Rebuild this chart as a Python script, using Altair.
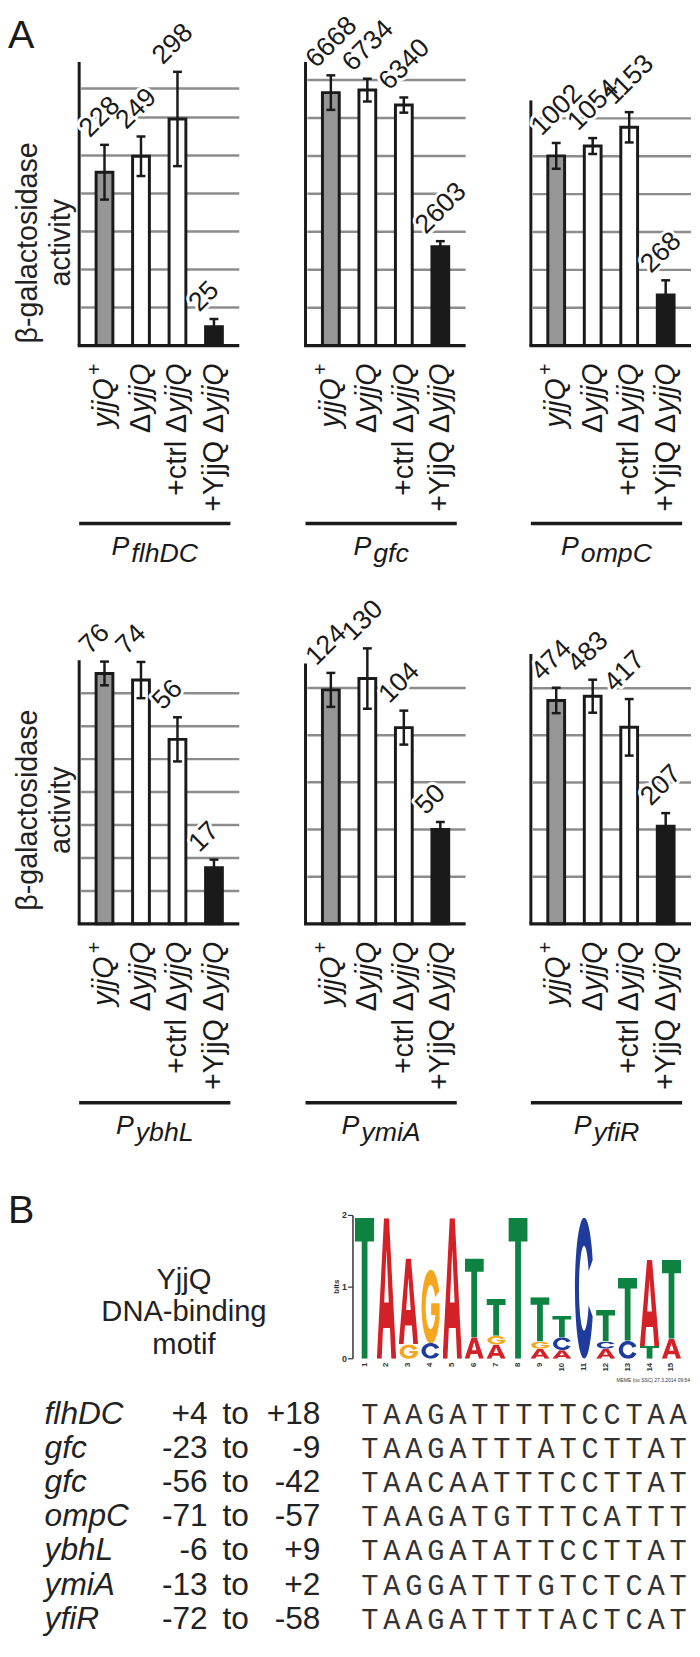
import altair as alt
import pandas as pd
from urllib.parse import quote

# ---------------- data ----------------
STRAINS = ["yjjQ+", "ΔyjjQ", "+ctrl ΔyjjQ", "+YjjQ ΔyjjQ"]
LABEL_ITALIC = ["yjjQ", "yjjQ", "yjjQ", "yjjQ"]
LABEL_PREFIX = ["", "Δ", "+ctrl Δ", "+YjjQ Δ"]
LABEL_SUP = ["+", "", "", ""]

PROMOTERS = ["flhDC", "gfc", "ompC", "ybhL", "ymiA", "yfiR"]

VAL_FLHDC = [228, 249, 298, 25]
ERR_FLHDC = [36, 26, 62, 10]
VAL_GFC = [6668, 6734, 6340, 2603]
ERR_GFC = [455, 300, 200, 150]
VAL_OMPC = [1002, 1054, 1153, 268]
ERR_OMPC = [68, 42, 80, 77]
VAL_YBHL = [76, 74, 56, 17]
ERR_YBHL = [3.6, 5.5, 6.7, 2.5]
VAL_YMIA = [124, 130, 104, 50]
ERR_YMIA = [9, 16, 9, 4]
VAL_YFIR = [474, 483, 417, 207]
ERR_YFIR = [27, 35, 60, 28]

GRID_FLHDC = [50, 100, 150, 200, 250, 300, 338]
GRID_GFC = [1000, 2000, 3000, 4000, 5000, 6000, 7000]
GRID_OMPC = [200, 400, 600, 800, 1000, 1200]
GRID_YBHL = [10, 20, 30, 40, 50, 60, 70]
GRID_YMIA = [25, 50, 75, 100, 125]
GRID_YFIR = [100, 200, 300, 400, 500]

# y-scale top of each panel and where its drawn axis line ends
YMAX = [373, 7476, 1498, 81.9, 143, 572.5]
AXIS_TOP = [373, 7476, 1295, 80, 138, 572.5]

# sequence logo (letters per position, bottom to top) and heights in bits
LOGO_POS = [str(i) for i in range(1, 16)]
LOGO_LETTERS = [["T"], ["A"], ["G", "A"], ["C", "G"], ["A"], ["A", "T"], ["A", "G", "T"], ["T"],
                ["A", "G", "T"], ["A", "C", "T"], ["C"], ["A", "C", "T"], ["C", "T"], ["T", "A"], ["A", "T"]]
LOGO_BITS = [[1.97], [1.96], [0.2, 1.2], [0.22, 1.03], [1.96], [0.3, 1.1], [0.2, 0.12, 0.52], [1.97],
             [0.14, 0.1, 0.62], [0.12, 0.18, 0.3], [1.97], [0.14, 0.1, 0.44], [0.25, 0.88], [0.18, 1.2], [0.28, 1.1]]
LOGO_TICKS = [0, 1, 2]

TABLE_GENES = ["flhDC", "gfc", "gfc", "ompC", "ybhL", "ymiA", "yfiR"]
TABLE_FROM = ["+4", "-23", "-56", "-71", "-6", "-13", "-72"]
TABLE_TO = ["+18", "-9", "-42", "-57", "+9", "+2", "-58"]
TABLE_SEQ = ["TAAGATTTTTCCTAA", "TAAGATTTATCTTAT", "TAACAATTTCCTTAT", "TAAGATGTTTCATTT",
             "TAAGATATTCCTTAT", "TAGGATTTGTCTCAT", "TAAGATTTTACTCAT"]

# ---------------- style / layout ----------------
FONT = "Liberation Sans"
INK = "#1a1a1a"
GRIDC = "#8c8c8c"
BAR_FILLS = ["#969696", "#ffffff", "#ffffff", "#1a1a1a"]
LOGO_COLORS = {"A": "#d42027", "C": "#1f3c9c", "G": "#f6a61e", "T": "#0e8241"}
LETTER_PATHS = {
    "T": "M0,0H100V17H65V100H35V17H0Z",
    "A": "M0,100L37,0H63L100,100H75L68,78H32L25,100ZM38,60H62L50,22Z",
    "C": "M96,30A48,50 0 1 0 96,70L75,62A26,30 0 1 1 75,38Z",
    "G": "M96,30A48,50 0 1 0 98,66V46H54V62H76A26,30 0 1 1 75,38Z",
}

OFF = 8
PANEL_LEFT = [80, 309, 537]
PANEL_W = 162
ROW_TOP = [53, 652]
ROW_BASE = [340, 925]
UNDERLINE_Y = [520, 1106]
YTITLE_Y = [236, 810]

W_ARIAL = {"P": 667, "f": 278, "l": 222, "h": 556, "D": 722, "C": 722, "g": 556, "c": 500, "o": 556,
           "m": 833, "p": 556, "y": 500, "b": 556, "L": 556, "i": 222, "A": 667, "R": 722}


def tw(s, size):
    return sum(W_ARIAL.get(ch, 556) for ch in s) * size / 1000.0


def letter_url(letter):
    svg = ("<svg xmlns='http://www.w3.org/2000/svg' viewBox='0 0 100 100' preserveAspectRatio='none'>"
           f"<path d='{LETTER_PATHS[letter]}' fill='{LOGO_COLORS[letter]}' fill-rule='evenodd'/></svg>")
    return "data:image/svg+xml;charset=utf-8," + quote(svg)


def text_layer(txt, x, y, **kw):
    return alt.Chart(pd.DataFrame({"t": [txt]})).mark_text(**kw).encode(
        x=alt.value(x), y=alt.value(y), text="t:N")


def build_panel(idx, promoter, vals, errs, grid):
    r, c = divmod(idx, 3)
    L = PANEL_LEFT[c] - OFF
    R = L + PANEL_W
    T = ROW_TOP[r] - OFF
    B = ROW_BASE[r] - OFF
    xs = alt.Scale(domain=STRAINS, range=[L, R], paddingInner=0.54, paddingOuter=0.464)
    ys = alt.Scale(domain=[0, YMAX[idx]], range=[B, T], nice=False, zero=False)
    X = alt.X("strain:N", scale=xs, axis=None)
    df = pd.DataFrame({"strain": STRAINS, "value": vals, "err": errs,
                       "label": [str(v) for v in vals],
                       "italic": LABEL_ITALIC, "prefix": LABEL_PREFIX, "sup": LABEL_SUP})
    base = alt.Chart(df)
    eb = base.transform_calculate(lo="datum.value - datum.err", hi="datum.value + datum.err")
    layers = []
    layers.append(alt.Chart(pd.DataFrame({"g": grid})).mark_rule(color=GRIDC, strokeWidth=2.5).encode(
        y=alt.Y("g:Q", scale=ys, axis=None), x=alt.value(L + 2), x2=alt.value(R)))
    layers.append(base.mark_bar(stroke=INK, strokeWidth=3, opacity=1).encode(
        x=X, y=alt.Y("value:Q", scale=ys, axis=None),
        fill=alt.Fill("strain:N", scale=alt.Scale(domain=STRAINS, range=BAR_FILLS), legend=None)))
    layers.append(eb.mark_rule(color=INK, strokeWidth=2.5).encode(
        x=X, y=alt.Y("lo:Q", scale=ys, axis=None), y2="hi:Q"))
    for f in ("lo", "hi"):
        layers.append(eb.mark_tick(color=INK, thickness=2.5, size=9, opacity=1).encode(
            x=X, y=alt.Y(f"{f}:Q", scale=ys, axis=None)))
    layers.append(alt.Chart(pd.DataFrame({"a": [0], "b": [AXIS_TOP[idx]]})).mark_rule(
        color=INK, strokeWidth=3).encode(x=alt.value(L), y=alt.Y("a:Q", scale=ys, axis=None), y2="b:Q"))
    layers.append(alt.Chart(pd.DataFrame({"a": [0]})).mark_rule(color=INK, strokeWidth=3.5).encode(
        x=alt.value(L - 1.5), x2=alt.value(R), y=alt.Y("a:Q", scale=ys, axis=None)))
    # value labels (white halo then text)
    for halo in (True, False):
        kw = dict(stroke="white", strokeWidth=6, strokeJoin="round", color="white") if halo else dict(color=INK)
        layers.append(eb.mark_text(font=FONT, fontSize=27, angle=315, align="left", baseline="alphabetic",
                                   dx=-6, dy=-15, **kw).encode(
            x=X, y=alt.Y("hi:Q", scale=ys, axis=None), text="label:N"))
    # strain labels under the bars
    lab_y = ROW_BASE[r] + 18 - OFF
    tkw = dict(font=FONT, fontSize=29, angle=270, align="right", baseline="middle", color=INK)
    layers.append(base.transform_filter("datum.sup == ''").mark_text(fontStyle="italic", **tkw).encode(
        x=X, y=alt.value(lab_y), text="italic:N"))
    layers.append(base.transform_filter("datum.sup != ''").mark_text(fontStyle="italic", dx=-15, **tkw).encode(
        x=X, y=alt.value(lab_y), text="italic:N"))
    layers.append(base.transform_filter("datum.sup != ''").mark_text(
        font=FONT, fontSize=20, angle=270, align="right", baseline="middle", dy=-10, color=INK).encode(
        x=X, y=alt.value(lab_y), text="sup:N"))
    layers.append(base.transform_filter("datum.prefix != ''").mark_text(dx=-51, **tkw).encode(
        x=X, y=alt.value(lab_y), text="prefix:N"))
    # promoter underline and name
    uy = UNDERLINE_Y[r] - OFF
    layers.append(alt.Chart(pd.DataFrame({"a": [0]})).mark_rule(color=INK, strokeWidth=3.5).encode(
        x=alt.value(L), x2=alt.value(L + 153), y=alt.value(uy)))
    pw = tw("P", 27)
    sw = tw(promoter, 27)
    start = L + 76.5 - (pw + 2 + sw) / 2
    layers.append(text_layer("P", start, uy + 32, font=FONT, fontSize=27, fontStyle="italic",
                             align="left", baseline="alphabetic", color=INK))
    layers.append(text_layer(promoter, start + pw + 2, uy + 39, font=FONT, fontSize=27, fontStyle="italic",
                             align="left", baseline="alphabetic", color=INK))
    if c == 0:
        ty = YTITLE_Y[r] - OFF
        layers.append(text_layer("β-galactosidase", 28 - OFF, ty, font=FONT, fontSize=29, angle=270,
                                 align="center", baseline="middle", color="#222222"))
        layers.append(text_layer("activity", 62 - OFF, ty, font=FONT, fontSize=29, angle=270,
                                 align="center", baseline="middle", color="#222222"))
    return alt.layer(*layers)


panels = [
    build_panel(0, PROMOTERS[0], VAL_FLHDC, ERR_FLHDC, GRID_FLHDC),
    build_panel(1, PROMOTERS[1], VAL_GFC, ERR_GFC, GRID_GFC),
    build_panel(2, PROMOTERS[2], VAL_OMPC, ERR_OMPC, GRID_OMPC),
    build_panel(3, PROMOTERS[3], VAL_YBHL, ERR_YBHL, GRID_YBHL),
    build_panel(4, PROMOTERS[4], VAL_YMIA, ERR_YMIA, GRID_YMIA),
    build_panel(5, PROMOTERS[5], VAL_YFIR, ERR_YFIR, GRID_YFIR),
]

# ---------------- sequence logo ----------------
rows = []
for p, lets, bits in zip(LOGO_POS, LOGO_LETTERS, LOGO_BITS):
    for k, (l, b) in enumerate(zip(lets, bits)):
        rows.append({"pos": p, "order": k, "letter": l, "bits": b})
logo_df = pd.DataFrame(rows)
logo_df["url"] = logo_df["letter"].map(letter_url)

lx = alt.Scale(domain=LOGO_POS, range=[359 - OFF, 689 - OFF], paddingInner=0.12, paddingOuter=0)
ly = alt.Scale(domain=[0, 2], range=[1365 - OFF, 1220 - OFF], nice=False, zero=False)
LX = alt.X("pos:N", scale=lx, axis=None)

logo_layers = [
    alt.Chart(logo_df).transform_stack(
        stack="bits", groupby=["pos"], as_=["b0", "b1"], sort=[alt.SortField("order")]
    ).mark_image(aspect=False).encode(
        x=LX, y=alt.Y("b0:Q", scale=ly, axis=None), y2="b1:Q", url="url:N"),
    alt.Chart(pd.DataFrame({"a": [0], "b": [2]})).mark_rule(color="#333333", strokeWidth=1.5).encode(
        x=alt.value(357 - OFF), y=alt.Y("a:Q", scale=ly, axis=None), y2="b:Q"),
    alt.Chart(pd.DataFrame({"t": LOGO_TICKS})).mark_rule(color="#333333", strokeWidth=1.2).encode(
        x=alt.value(352 - OFF), x2=alt.value(357 - OFF), y=alt.Y("t:Q", scale=ly, axis=None)),
    alt.Chart(pd.DataFrame({"t": LOGO_TICKS, "s": [str(t) for t in LOGO_TICKS]})).mark_text(
        font=FONT, fontSize=9, fontWeight="bold", align="right", baseline="middle", color="#333333").encode(
        x=alt.value(351 - OFF), y=alt.Y("t:Q", scale=ly, axis=None), text="s:N"),
    alt.Chart(pd.DataFrame({"pos": LOGO_POS})).mark_text(
        font=FONT, fontSize=8, fontWeight="bold", angle=270, align="right", baseline="middle",
        color="#333333").encode(x=LX, y=alt.value(1369 - OFF), text="pos:N"),
]
logo_layers.append(text_layer("bits", 341 - OFF, 1292 - OFF, font=FONT, fontSize=8, fontWeight="bold",
                              angle=270, align="center", baseline="middle", color="#333333"))
logo_layers.append(text_layer("MEME (no SSC) 27.3.2014 09:54", 698 - OFF, 1386 - OFF, font=FONT, fontSize=5,
                              align="right", baseline="middle", color="#333333"))
logo = alt.layer(*logo_layers)

# ---------------- table ----------------
tab_df = pd.DataFrame({"row": list(range(len(TABLE_GENES))), "gene": TABLE_GENES,
                       "frm": TABLE_FROM, "to": TABLE_TO})
char_rows = []
for i, s in enumerate(TABLE_SEQ):
    for j, ch in enumerate(s):
        char_rows.append({"row": i, "col": j, "ch": ch})
char_df = pd.DataFrame(char_rows)

ty = alt.Scale(type="point", domain=list(range(len(TABLE_GENES))), range=[1431 - OFF, 1638 - OFF], padding=0)
TY = alt.Y("row:O", scale=ty, axis=None)
cx = alt.Scale(type="point", domain=list(range(15)), range=[374 - OFF, 686 - OFF], padding=0)
tkw = dict(font=FONT, fontSize=32, baseline="alphabetic", color="#222222")
table = alt.layer(
    alt.Chart(tab_df).mark_text(fontStyle="italic", align="left", **tkw).encode(
        x=alt.value(45 - OFF), y=TY, text="gene:N"),
    alt.Chart(tab_df).mark_text(align="right", **tkw).encode(x=alt.value(210 - OFF), y=TY, text="frm:N"),
    alt.Chart(tab_df).mark_text(align="left", text="to", **tkw).encode(x=alt.value(225 - OFF), y=TY),
    alt.Chart(tab_df).mark_text(align="right", **tkw).encode(x=alt.value(324 - OFF), y=TY, text="to:N"),
    alt.Chart(char_df).mark_text(font="Liberation Mono", fontSize=29, align="center", baseline="alphabetic",
                                 color="#333333").encode(
        x=alt.X("col:O", scale=cx, axis=None), y=TY, text="ch:N"),
)

# ---------------- annotations ----------------
annot = alt.layer(
    text_layer("A", 0, 31, font=FONT, fontSize=40, align="left", baseline="alphabetic", color=INK),
    text_layer("B", 0, 1228 - OFF, font=FONT, fontSize=40, align="left", baseline="alphabetic", color=INK),
    text_layer("YjjQ", 186 - OFF, 1294 - OFF, font=FONT, fontSize=29.5, align="center",
               baseline="alphabetic", color="#222222"),
    text_layer("DNA-binding", 186 - OFF, 1327 - OFF, font=FONT, fontSize=29.5, align="center",
               baseline="alphabetic", color="#222222"),
    text_layer("motif", 186 - OFF, 1360 - OFF, font=FONT, fontSize=29.5, align="center",
               baseline="alphabetic", color="#222222"),
)

chart = alt.layer(*panels, logo, table, annot).resolve_scale(
    x="independent", y="independent"
).properties(
    width=692, height=1638, autosize=alt.AutoSizeParams(type="none"), padding=0, background="white"
).configure_view(strokeWidth=0)

chart.save("out.html", embed_options={"renderer": "svg", "actions": False})
